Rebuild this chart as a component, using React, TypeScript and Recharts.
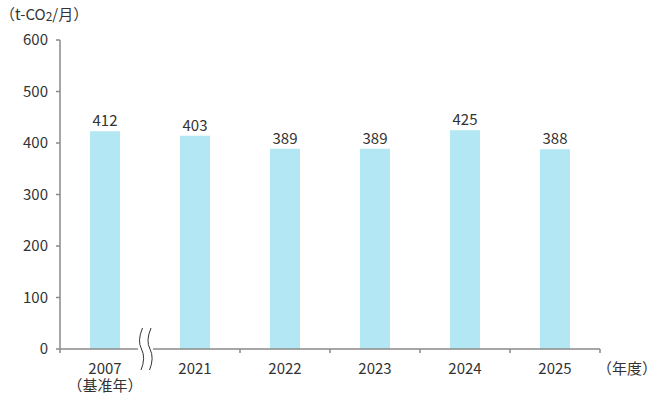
import React from 'react';
import { BarChart, Bar, XAxis, YAxis, LabelList } from 'recharts';

const categories = ['2007', '2021', '2022', '2023', '2024', '2025'];
const subLabels = ['（基准年）', '', '', '', '', ''];
const barValues = [423, 414, 389, 389, 425, 388];
const labelTexts = ['412', '403', '389', '389', '425', '388'];
const yTicks = [0, 100, 200, 300, 400, 500, 600];

const data = categories.map((c, i) => ({
  year: c,
  value: barValues[i],
  label: labelTexts[i],
  sub: subLabels[i],
}));

const FONT = "'Noto Sans CJK JP', 'Noto Sans', sans-serif";
const TEXT = '#333333';
const AXIS = '#8a8a8a';
const HALF_BAND = 45;

const XTick = (props: any) => {
  const { x, y, payload, index } = props;
  const i = index ?? categories.indexOf(payload.value);
  const last = i === categories.length - 1;
  const axisY = y - 4;
  const sub = subLabels[i];
  return (
    <g>
      {i !== 1 && (
        <line x1={x - HALF_BAND} x2={x - HALF_BAND} y1={axisY} y2={axisY + 4} stroke={AXIS} strokeWidth={1.5} />
      )}
      {last && (
        <line x1={x + HALF_BAND} x2={x + HALF_BAND} y1={axisY} y2={axisY + 4} stroke={AXIS} strokeWidth={1.5} />
      )}
      {i === 0 && (
        <g>
          <rect x={x + 33} y={axisY - 2} width={15} height={4} fill="#ffffff" />
          <path
            d={`M ${x + 37.5} ${axisY - 21} Q ${x + 32} ${axisY - 8} ${x + 36.5} ${axisY} Q ${x + 41} ${axisY + 9} ${x + 36} ${axisY + 21}`}
            fill="none"
            stroke="#333"
            strokeWidth={1}
          />
          <path
            d={`M ${x + 46} ${axisY - 21} Q ${x + 40.5} ${axisY - 8} ${x + 45} ${axisY} Q ${x + 49.5} ${axisY + 9} ${x + 44.5} ${axisY + 21}`}
            fill="none"
            stroke="#333"
            strokeWidth={1}
          />
        </g>
      )}
      <text x={x} y={axisY + 25} textAnchor="middle" fill={TEXT} fontSize={15} fontFamily={FONT}>
        <tspan x={x}>{payload.value}</tspan>
        {sub && (
          <tspan x={x} dy={17}>
            {sub}
          </tspan>
        )}
      </text>
      {last && (
        <text x={x + HALF_BAND - 3} y={axisY + 25} textAnchor="start" fill={TEXT} fontSize={15} fontFamily={FONT}>
          （年度）
        </text>
      )}
    </g>
  );
};

export default function App() {
  return (
    <div style={{ position: 'absolute', left: 0, top: 0, width: 660, height: 400, background: '#fff' }}>
      <div
        style={{
          position: 'absolute',
          left: 0,
          top: 4,
          fontFamily: FONT,
          fontSize: 15,
          color: TEXT,
          lineHeight: '20px',
          whiteSpace: 'nowrap',
        }}
      >
        （t-CO<span style={{ fontSize: 12, verticalAlign: '-1px' }}>2</span>/月）
      </div>
      <BarChart
        width={660}
        height={400}
        data={data}
        margin={{ top: 40, right: 60, bottom: 0, left: 0 }}
        barCategoryGap="33.333%"
      >
        <XAxis
          dataKey="year"
          height={51}
          tickLine={false}
          tickSize={4}
          tickMargin={0}
          axisLine={{ stroke: AXIS, strokeWidth: 1.5 }}
          tick={<XTick />}
          interval={0}
        />
        <YAxis
          width={60}
          domain={[0, 600]}
          ticks={yTicks}
          tickSize={4}
          tickMargin={8}
          axisLine={{ stroke: AXIS, strokeWidth: 1.5 }}
          tickLine={{ stroke: AXIS, strokeWidth: 1.5 }}
          tick={{ fill: TEXT, fontSize: 15, fontFamily: FONT }}
        />
        <Bar dataKey="value" fill="#b2e7f3" isAnimationActive={false}>
          <LabelList dataKey="label" position="top" offset={5} fill={TEXT} fontSize={15} fontFamily={FONT} />
        </Bar>
      </BarChart>
    </div>
  );
}
